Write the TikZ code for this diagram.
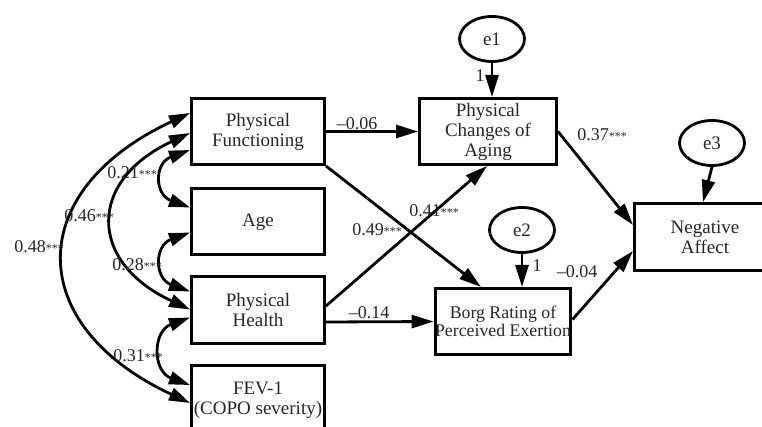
\documentclass[tikz,border=0pt]{standalone}
\usepackage{fontspec}
\setmainfont{Liberation Serif}
\usetikzlibrary{arrows.meta,shapes.geometric,calc}
\newcommand\mystars{{\fontsize{12}{12}\selectfont***}}
\begin{document}
\begin{tikzpicture}[x=1pt,y=1pt,
  box/.style={draw, line width=3pt, minimum width=133pt, minimum height=66pt, inner sep=0pt, align=center, font=\fontsize{19}{20}\selectfont, text=black!85},
  err/.style={draw, ellipse, line width=2.8pt, minimum width=65pt, minimum height=45pt, inner sep=0pt, font=\fontsize{19}{20}\selectfont, text=black!85},
  arr/.style={line width=2.8pt, -{Triangle[length=22pt,width=13pt]}},
  cov/.style={line width=2.8pt, {Triangle[length=21pt,width=13pt]}-{Triangle[length=21pt,width=13pt]}},
  lab/.style={inner sep=0pt, font=\fontsize{18}{18}\selectfont, text=black!85}]
\useasboundingbox (0,0) rectangle (762,-427);
% boxes
\node[box] (PF) at (258,-131.5) {Physical\\Functioning};
\node[box] (Age) at (258,-222) {Age};
\node[box] (PH) at (258,-310) {Physical\\Health};
\node[box, minimum height=69pt] (FEV) at (258,-400) {FEV-1\\(COPO severity)};
\node[box, minimum width=137pt] (PCA) at (488,-131.5) {Physical\\Changes of\\Aging};
\node[box, minimum width=135pt, font=\fontsize{17.8}{18}\selectfont] (Borg) at (503,-321.5) {Borg Rating of\\Perceived Exertion};
\node[box, minimum width=141pt, minimum height=67pt] (NA) at (705,-237) {Negative\\Affect};
% errors
\node[err] (e1) at (492,-39) {e1};
\node[err] (e2) at (522,-230) {e2};
\node[err] (e3) at (712,-143) {e3};
% paths
\draw[arr] (e1.south) -- (e1.south |- PCA.north);
\draw[arr] (e2.south) -- (e2.south |- Borg.north);
\draw[arr] (e3.south) -- ([xshift=-2pt]NA.north);
\draw[arr] (PF.east) -- (PCA.west);
\draw[arr] (PF.south east) -- ([xshift=-22pt]Borg.north);
\draw[arr] ([yshift=4pt]PH.east) -- ([xshift=-1pt]PCA.south);
\draw[arr] ([yshift=-12pt]PH.east) -- (Borg.west);
\draw[arr] (PCA.east) -- ([yshift=12pt]NA.west);
\draw[arr] ([yshift=2pt]Borg.east) -- ([yshift=-14pt]NA.west);
% covariances
\draw[cov] ([yshift=-53pt]PF.north west) to[out=200,in=160,distance=38pt] ([yshift=-20pt]Age.north west);
\draw[cov] ([yshift=-45pt]Age.north west) to[out=200,in=160,distance=38pt] ([yshift=-16pt]PH.north west);
\draw[cov] ([yshift=-42pt]PH.north west) to[out=200,in=160,distance=40pt] ([yshift=-21pt]FEV.north west);
\draw[cov] ([yshift=-36pt]PF.north west) to[out=205,in=155,distance=113pt] ([yshift=-34pt]PH.north west);
\draw[cov] ([yshift=-16pt]PF.north west) to[out=205,in=155,distance=184pt] ([yshift=-39pt]FEV.north west);
% labels
\node[lab] (l1) at (357,-124) {–0.06};
\node[lab] (l2) at (602,-135) {0.37\mystars};
\node[lab] (l3) at (434,-211) {0.41\mystars};
\node[lab] (l4) at (377,-230) {0.49\mystars};
\node[lab] (l5) at (369,-313) {–0.14};
\node[lab] (l6) at (577,-272) {–0.04};
\node[lab] (l7) at (480,-76) {1};
\node[lab] (l8) at (537,-266) {1};
\node[lab] (l9) at (132,-173) {0.21\mystars};
\node[lab] (l10) at (89,-216) {0.46\mystars};
\node[lab] (l11) at (39,-247) {0.48\mystars};
\node[lab] (l12) at (137,-265) {0.28\mystars};
\node[lab] (l13) at (138,-356) {0.31\mystars};
\end{tikzpicture}
\end{document}
